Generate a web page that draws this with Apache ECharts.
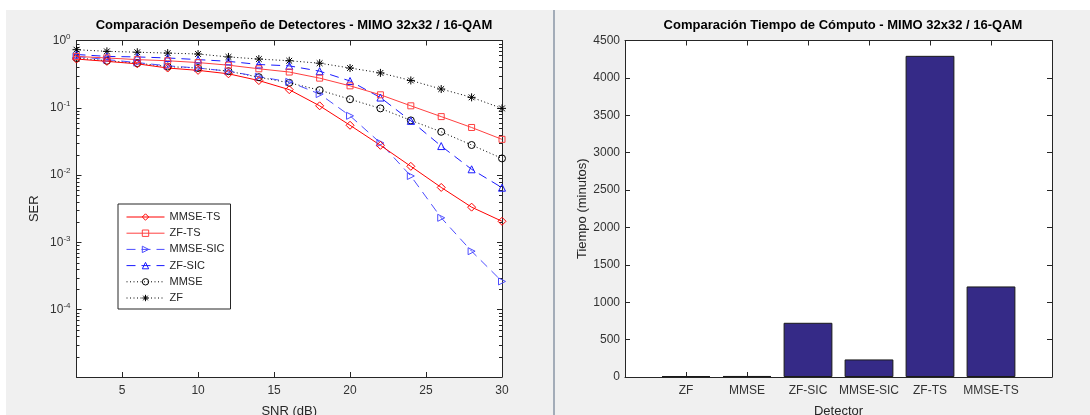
<!DOCTYPE html>
<html>
<head>
<meta charset="utf-8">
<script src="https://cdn.jsdelivr.net/npm/echarts@6/dist/echarts.min.js"></script>
<style>
html,body{margin:0;padding:0;background:#fff;}
#bg{position:absolute;left:6px;top:10px;width:1084px;height:405px;background:#f0f0f0;}
#sep{position:absolute;left:553px;top:10px;width:2px;height:405px;background:#a3acb8;}
#chart{position:absolute;left:0;top:0;width:1090px;height:415px;}
</style>
</head>
<body>
<div id="bg"></div>
<div id="sep"></div>
<div id="chart"></div>
<script>
// ---------- data ----------
const snr = [2,4,6,8,10,12,14,16,18,20,22,24,26,28,30];
const serMMSE_TS  = [0.53,0.49,0.45,0.39,0.36,0.32,0.254,0.186,0.107,0.055,0.0277,0.0135,0.00656,0.00334,0.00206];
const serZF_TS    = [0.58,0.55,0.52,0.50,0.47,0.43,0.38,0.34,0.276,0.212,0.156,0.107,0.074,0.051,0.034];
const serMMSE_SIC = [0.58,0.52,0.47,0.42,0.39,0.35,0.29,0.243,0.16,0.076,0.030,0.0097,0.00232,0.00074,0.000263];
const serZF_SIC   = [0.62,0.58,0.57,0.55,0.52,0.49,0.44,0.42,0.35,0.25,0.142,0.064,0.027,0.0122,0.0065];
const serMMSE     = [0.55,0.50,0.46,0.41,0.39,0.35,0.285,0.235,0.183,0.134,0.098,0.065,0.044,0.028,0.0177];
const serZF       = [0.73,0.69,0.67,0.65,0.63,0.57,0.53,0.50,0.46,0.39,0.33,0.255,0.19,0.143,0.098];

const detectors = ['ZF','MMSE','ZF-SIC','MMSE-SIC','ZF-TS','MMSE-TS'];
const tiempo    = [12,14,725,235,4295,1211];

const snrTicks = [5,10,15,20,25,30];
const serMajorTicks = [1,0.1,0.01,0.001,0.0001,0.00001];

// ---------- helpers ----------
const ink = '#262626';
const font = 'Liberation Sans';
const minorTicks = [];
for (let e = -5; e <= -1; e++) for (let k = 2; k <= 9; k++) minorTicks.push(k * Math.pow(10, e));

function axisBase() {
  return {
    axisLine: {show: true, onZero: false, lineStyle: {color: ink, width: 1}},
    axisTick: {show: true, inside: true, length: 5, lineStyle: {color: ink}},
    splitLine: {show: false},
    axisLabel: {color: '#333', fontSize: 12, fontFamily: font}
  };
}
function mergeDeep(a, b) {
  for (const k in b) {
    if (b[k] && typeof b[k] === 'object' && !Array.isArray(b[k]) && a[k] && typeof a[k] === 'object') mergeDeep(a[k], b[k]);
    else a[k] = b[k];
  }
  return a;
}
function ax(extra) { return mergeDeep(axisBase(), extra); }

const star = 'path://M0,-5L0,5M-5,0L5,0M-3.6,-3.6L3.6,3.6M-3.6,3.6L3.6,-3.6';
const pairs = arr => snr.map((x, i) => [x, arr[i]]);

function lineSeries(name, data, color, type, symbol, size, rot) {
  return {
    name, type: 'line', data: pairs(data), xAxisIndex: 0, yAxisIndex: 0,
    symbol, symbolSize: size, symbolRotate: rot || 0, showSymbol: true,
    lineStyle: {color, width: 1, type},
    itemStyle: {color: 'rgba(255,255,255,0)', borderColor: color, borderWidth: 1},
    emphasis: {disabled: true}, animation: false, z: 3
  };
}

const chart = echarts.init(document.getElementById('chart'), null, {renderer: 'canvas'});
const option = {
  animation: false,
  textStyle: {fontFamily: font},
  title: [
    {text: 'Comparación Desempeño de Detectores - MIMO 32x32 / 16-QAM', left: 289, top: 14, textAlign: 'center',
     textStyle: {fontSize: 13, fontWeight: 'bold', color: '#000', fontFamily: font}},
    {text: 'Comparación Tiempo de Cómputo - MIMO 32x32 / 16-QAM', left: 838, top: 14, textAlign: 'center',
     textStyle: {fontSize: 13, fontWeight: 'bold', color: '#000', fontFamily: font}}
  ],
  legend: {
    left: 118, top: 204, orient: 'vertical',
    data: ['MMSE-TS','ZF-TS','MMSE-SIC','ZF-SIC','MMSE','ZF'],
    itemWidth: 38, itemHeight: 8, itemGap: 2.2,
    padding: [6, 6, 4, 8],
    itemStyle: {color: 'rgba(255,255,255,0)', borderWidth: 1},
    lineStyle: {width: 1},
    backgroundColor: '#fff', borderColor: ink, borderWidth: 1, borderRadius: 0,
    textStyle: {fontSize: 11, color: '#262626', fontFamily: font, lineHeight: 14},
    selectedMode: false
  },
  grid: [
    {left: 76.5, top: 40.5, width: 425.5, height: 336.5, show: true, backgroundColor: '#fff', borderWidth: 0,
     outerBoundsMode: 'none', containLabel: false},
    {left: 625, top: 40.5, width: 427, height: 336.5, show: true, backgroundColor: '#fff', borderWidth: 0,
     outerBoundsMode: 'none', containLabel: false}
  ],
  xAxis: [
    ax({type: 'value', gridIndex: 0, position: 'bottom', min: 2, max: 30,
        axisTick: {customValues: snrTicks}, axisLabel: {customValues: snrTicks, margin: 8},
        name: 'SNR (dB)', nameLocation: 'middle', nameGap: 28,
        nameTextStyle: {fontSize: 13, color: ink, fontFamily: font}}),
    ax({type: 'value', gridIndex: 0, position: 'top', min: 2, max: 30,
        axisTick: {customValues: snrTicks}, axisLabel: {show: false}}),
    ax({type: 'value', gridIndex: 1, position: 'bottom', min: 0, max: 7,
        axisTick: {customValues: [1,2,3,4,5,6]},
        axisLabel: {customValues: [1,2,3,4,5,6], margin: 8, formatter: v => detectors[Math.round(v) - 1] || ''},
        name: 'Detector', nameLocation: 'middle', nameGap: 28,
        nameTextStyle: {fontSize: 13, color: ink, fontFamily: font}}),
    ax({type: 'value', gridIndex: 1, position: 'top', min: 0, max: 7,
        axisTick: {customValues: [1,2,3,4,5,6]}, axisLabel: {show: false}})
  ],
  yAxis: [
    ax({type: 'log', logBase: 10, gridIndex: 0, position: 'left', min: 0.00001, max: 1,
        axisTick: {customValues: serMajorTicks},
        axisLabel: {customValues: serMajorTicks.slice(0, 5), margin: 6,
          formatter: v => '{b|10}{e|' + Math.round(Math.log10(v)) + '}',
          rich: {b: {fontSize: 12, color: '#333', fontFamily: font},
                 e: {fontSize: 8, color: '#333', fontFamily: font, padding: [0, 0, 8, 0]}}},
        name: 'SER', nameLocation: 'middle', nameGap: 36, nameRotate: 90,
        nameTextStyle: {fontSize: 13, color: ink, fontFamily: font}}),
    ax({type: 'log', logBase: 10, gridIndex: 0, position: 'right', min: 0.00001, max: 1,
        axisTick: {customValues: serMajorTicks}, axisLabel: {show: false}}),
    ax({type: 'value', gridIndex: 1, position: 'left', min: 0, max: 4500, interval: 500,
        axisLabel: {margin: 5, formatter: v => String(v)},
        name: 'Tiempo (minutos)', nameLocation: 'middle', nameGap: 36, nameRotate: 90,
        nameTextStyle: {fontSize: 13, color: ink, fontFamily: font}}),
    ax({type: 'value', gridIndex: 1, position: 'right', min: 0, max: 4500, interval: 500,
        axisLabel: {show: false}})
  ],
  series: [
    {
      name: 'minorTicks', type: 'custom', xAxisIndex: 0, yAxisIndex: 0, silent: true, clip: false,
      data: minorTicks.map(v => [2, v]), encode: {x: 0, y: 1},
      renderItem: (params, api) => {
        const v = api.value(1);
        const pl = api.coord([2, v]);
        const pr = api.coord([30, v]);
        const y = Math.round(pl[1]) + 0.5;
        return {type: 'group', children: [
          {type: 'line', shape: {x1: pl[0], y1: y, x2: pl[0] + 3, y2: y}, style: {stroke: ink, lineWidth: 1}},
          {type: 'line', shape: {x1: pr[0] - 3, y1: y, x2: pr[0], y2: y}, style: {stroke: ink, lineWidth: 1}}
        ]};
      },
      z: 1
    },
    lineSeries('ZF', serZF, '#000000', [1, 2.5], star, 8),
    lineSeries('MMSE', serMMSE, '#000000', [1, 2.5], 'circle', 7),
    lineSeries('ZF-SIC', serZF_SIC, '#1a1aff', [9, 6], 'triangle', 7),
    lineSeries('MMSE-SIC', serMMSE_SIC, '#4d4dff', [9, 6], 'triangle', 7, -90),
    lineSeries('ZF-TS', serZF_TS, '#ff4040', 'solid', 'rect', 6),
    lineSeries('MMSE-TS', serMMSE_TS, '#ff0000', 'solid', 'diamond', 8),
    {
      name: 'Tiempo', type: 'bar', xAxisIndex: 2, yAxisIndex: 2,
      data: detectors.map((d, i) => [i + 1, tiempo[i]]),
      barWidth: 48.8,
      itemStyle: {color: '#352a87', borderColor: '#1a1a1a', borderWidth: 1},
      emphasis: {disabled: true}
    }
  ]
};
chart.setOption(option);
</script>
</body>
</html>
